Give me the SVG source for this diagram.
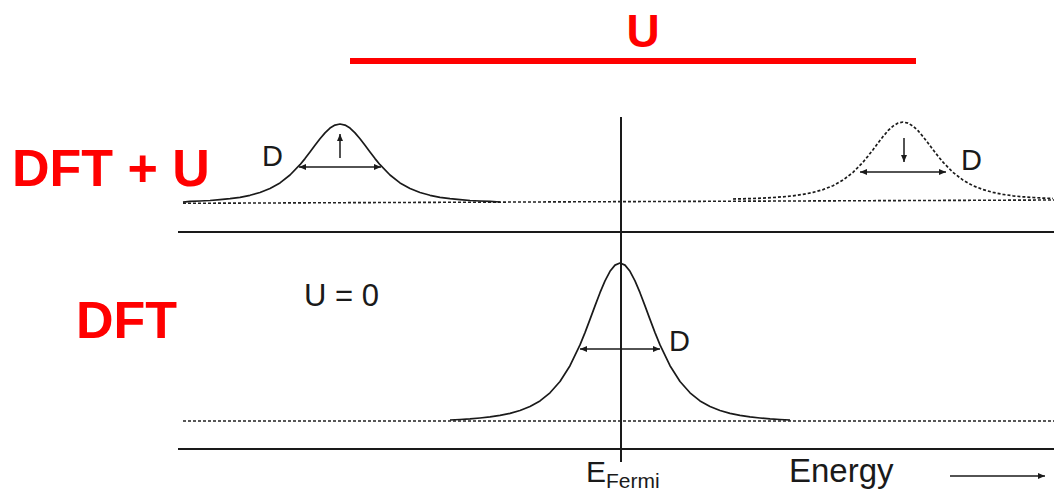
<svg xmlns="http://www.w3.org/2000/svg" width="1054" height="492" viewBox="0 0 1054 492">
<style>
.red{fill:#ff0000;font-family:"Liberation Sans",Arial,sans-serif;font-weight:bold}
.lbl{fill:#1a1a1a;font-family:"Liberation Sans",Arial,sans-serif}
.axis{stroke:#1a1a1a;stroke-width:2;fill:none}
.dot{stroke:#222;stroke-width:1.6;stroke-dasharray:3 2;fill:none}
.curve{stroke:#1a1a1a;stroke-width:1.7;fill:none;stroke-linejoin:round}
.dcurve{stroke:#1a1a1a;stroke-width:1.7;fill:none;stroke-dasharray:3 2}
.arr{stroke:#1a1a1a;stroke-width:1.5;fill:none}
</style>
<defs>
<marker id="ah" markerUnits="userSpaceOnUse" markerWidth="9" markerHeight="8" refX="7" refY="4" orient="auto-start-reverse">
<path d="M0,1 L7,4 L0,7 Z" fill="#1a1a1a"/>
</marker>
</defs>
<rect width="1054" height="492" fill="#ffffff"/>

<g id="title">
<text class="red" x="643" y="47" font-size="46" text-anchor="middle">U</text>
<line x1="350" y1="61" x2="916" y2="61" stroke="#ff0000" stroke-width="6"/>
</g>

<g id="label-dftu">
<text class="red" x="12" y="186" font-size="52">DFT + U</text>
</g>
<g id="label-dft">
<text class="red" x="76" y="338" font-size="52">DFT</text>
</g>

<g id="axes">
<line class="axis" x1="621" y1="117" x2="621" y2="462" stroke-width="1.6"/>
<line class="axis" x1="178" y1="232" x2="1054" y2="232"/>
<line class="axis" x1="178" y1="449" x2="1054" y2="449"/>
<line class="dot" x1="183" y1="203.3" x2="1054" y2="200"/>
<line class="dot" x1="183" y1="421" x2="1054" y2="421"/>
</g>

<g id="peak-up">
<polyline class="curve" points="183,202.2 190,201.4 200,201.0 210,200.5 220,199.7 230,198.7 240,197.3 250,195.3 260,192.5 270,188.5 280,182.9 290,175.0 300,164.7 305,158.6 310,152.0 315,145.3 320,138.8 325,132.9 330,128.1 335,125.1 340,124 345,125.1 350,128.1 355,132.9 360,138.8 365,145.3 370,152.0 375,158.6 380,164.7 390,175.0 400,182.9 410,188.5 420,192.5 430,195.3 440,197.3 450,198.7 460,199.7 470,200.5 480,201.0 490,201.4 500,202.0"/>
<line class="arr" x1="299" y1="167" x2="381" y2="167" marker-start="url(#ah)" marker-end="url(#ah)"/>
<line class="arr" x1="340" y1="158" x2="340" y2="134" marker-end="url(#ah)"/>
<text class="lbl" x="262" y="166" font-size="29">D</text>
</g>

<g id="peak-down">
<polyline class="dcurve" points="733,199.0 743,198.8 753,198.5 763,198.1 773,197.5 783,196.8 793,195.8 803,194.4 813,192.4 823,189.6 833,185.7 843,180.1 853,172.4 863,162.2 868,156.1 873,149.7 878,143.0 883,136.6 888,130.7 893,126.1 898,123.1 903,122 908,123.1 913,126.1 918,130.7 923,136.6 928,143.0 933,149.7 938,156.1 943,162.2 953,172.4 963,180.1 973,185.7 983,189.6 993,192.4 1003,194.4 1013,195.8 1023,196.8 1033,197.5 1043,198.1 1053,198.5"/>
<line class="arr" x1="860" y1="172" x2="946" y2="172" marker-start="url(#ah)" marker-end="url(#ah)"/>
<line class="arr" x1="904" y1="138" x2="904" y2="162" marker-end="url(#ah)"/>
<text class="lbl" x="961" y="170" font-size="29">D</text>
</g>

<g id="peak-dft">
<polyline class="curve" points="450,420.0 460,419.5 470,418.9 480,418.0 490,416.9 500,415.4 510,413.4 520,410.5 530,406.5 540,400.9 550,392.8 560,381.5 570,365.7 580,344.9 585,332.6 590,319.4 595,305.9 600,292.7 605,280.8 610,271.3 615,265.1 620,263 625,265.1 630,271.3 635,280.8 640,292.7 645,305.9 650,319.4 655,332.6 660,344.9 670,365.7 680,381.5 690,392.8 700,400.9 710,406.5 720,410.5 730,413.4 740,415.4 750,416.9 760,418.0 770,418.9 780,419.5 790,420.0"/>
<line class="arr" x1="580" y1="349" x2="660" y2="349" marker-start="url(#ah)" marker-end="url(#ah)"/>
<text class="lbl" x="669" y="351" font-size="29">D</text>
<text class="lbl" x="304" y="306" font-size="31">U = 0</text>
</g>

<g id="axis-labels">
<text class="lbl" x="586" y="482" font-size="30">E<tspan font-size="21" dy="6">Fermi</tspan></text>
<text class="lbl" x="789" y="482" font-size="33">Energy</text>
<line class="arr" x1="950" y1="476" x2="1045" y2="476" marker-end="url(#ah)"/>
</g>
</svg>
